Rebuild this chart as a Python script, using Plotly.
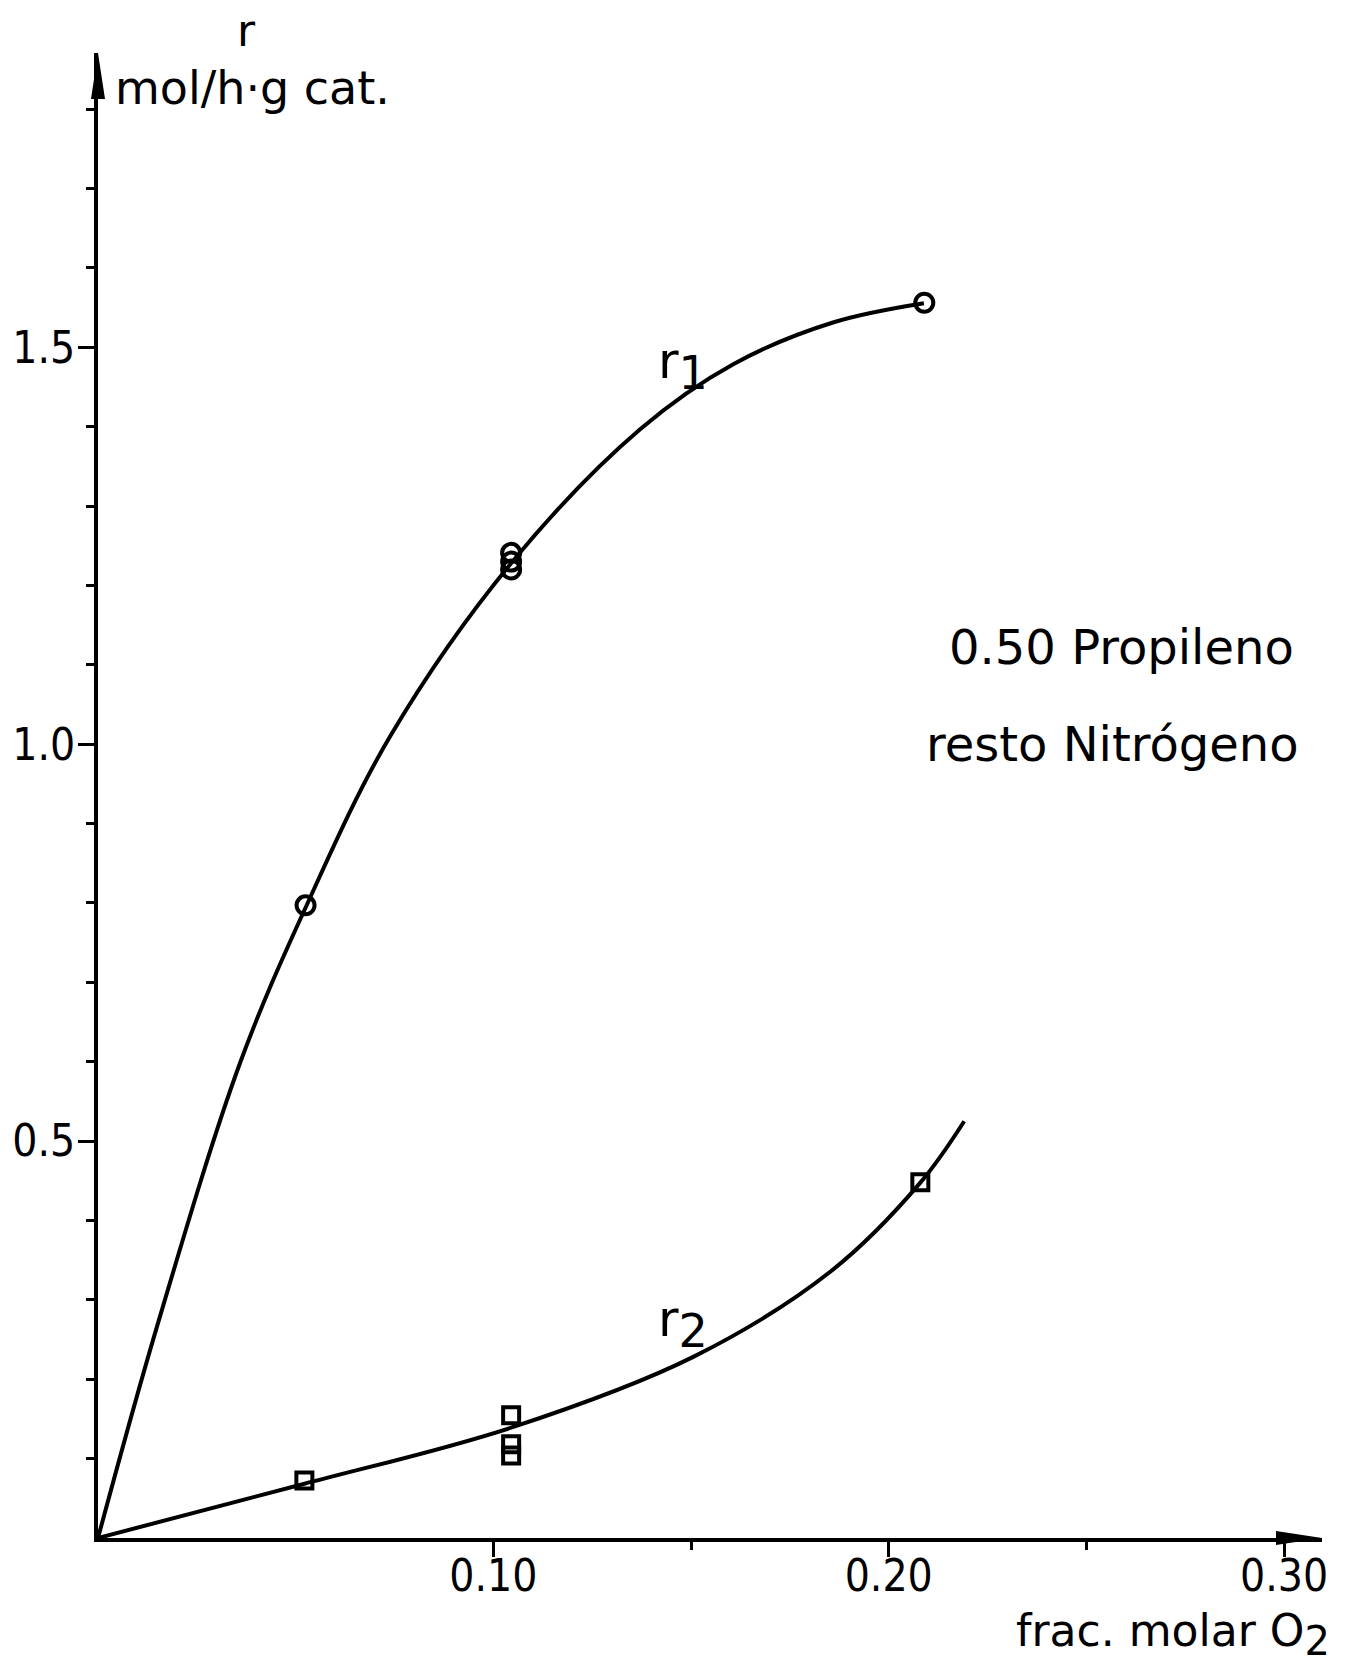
import plotly.graph_objects as go

# Measured rates (mol/h·g cat.) versus O2 molar fraction
o2_r1 = [0.0525, 0.1045, 0.1045, 0.1045, 0.209]
rate_r1 = [0.797, 1.241, 1.230, 1.220, 1.556]
o2_r2 = [0.0522, 0.1045, 0.1045, 0.1045, 0.208]
rate_r2 = [0.0725, 0.1545, 0.118, 0.104, 0.448]

# Smoothed trend curves drawn through the measurements
curve_r1_x = [0, 0.0149, 0.0359, 0.0524, 0.0739, 0.1045, 0.1372, 0.1608, 0.1861, 0.2089]
curve_r1_y = [0, 0.266, 0.598, 0.793, 1.010, 1.228, 1.397, 1.479, 1.5315, 1.5555]
curve_r2_x = [0, 0.052, 0.1045, 0.1507, 0.1853, 0.2079, 0.2191]
curve_r2_y = [0, 0.068, 0.139, 0.2285, 0.3357, 0.447, 0.525]

# Axis ticks
x_major = [0.10, 0.20, 0.30]
x_major_text = ["0.10", "0.20", "0.30"]
x_minor = [0.15, 0.25]
y_major = [0.5, 1.0, 1.5]
y_major_text = ["0.5", "1.0", "1.5"]
y_minor = [0.1, 0.2, 0.3, 0.4, 0.6, 0.7, 0.8, 0.9, 1.1, 1.2, 1.3, 1.4, 1.6, 1.7, 1.8]

W, H = 1366, 1668
ML, MR, MT, MB = 98, 44, 53, 130
PW, PH = W - ML - MR, H - MT - MB

TEXT_FONT = "DejaVu Sans, Liberation Sans, sans-serif"
TICK_FONT = "DejaVu Sans Condensed, DejaVu Sans, sans-serif"


def px(xp, yp):
    """Page pixel position -> paper coordinates."""
    return (xp - ML) / PW, (H - MB - yp) / PH


fig = go.Figure()

line_style = dict(color="black", width=4, shape="spline", smoothing=1.0)
fig.add_trace(go.Scatter(x=curve_r1_x, y=curve_r1_y, mode="lines", line=line_style,
                         cliponaxis=False, hoverinfo="skip"))
fig.add_trace(go.Scatter(x=curve_r2_x, y=curve_r2_y, mode="lines", line=line_style,
                         cliponaxis=False, hoverinfo="skip"))
fig.add_trace(go.Scatter(x=o2_r1, y=rate_r1, mode="markers", cliponaxis=False,
                         marker=dict(symbol="circle-open", size=18, color="black",
                                     line=dict(width=4, color="black"))))
fig.add_trace(go.Scatter(x=o2_r2, y=rate_r2, mode="markers", cliponaxis=False,
                         marker=dict(symbol="square-open", size=16, color="black",
                                     line=dict(width=4, color="black"))))

annotations = []


def label(text, xp, yp, size, xanchor="center", family=TEXT_FONT):
    xx, yy = px(xp, yp)
    annotations.append(dict(text=text, x=xx, y=yy, xref="paper", yref="paper",
                            xanchor=xanchor, yanchor="middle", showarrow=False,
                            font=dict(family=family, size=size, color="black")))


label("r", 246, 31, 44)
label("mol/h·g cat.", 113, 88, 46, xanchor="left")
label("0.50 Propileno", 1121, 647, 48)
label("resto Nitrógeno", 1112, 744, 48)
label("r<sub><span style='font-size:46px'>1</span></sub>", 683, 366, 50)
label("r<sub><span style='font-size:46px'>2</span></sub>", 683, 1324, 50)
label("frac. molar O<sub><span style='font-size:40px'>2</span></sub>", 1332, 1634, 44,
      xanchor="right")

# Arrowheads at the ends of both axes
shapes = [
    dict(type="path", xref="paper", yref="paper", xsizemode="pixel", ysizemode="pixel",
         xanchor=0, yanchor=1, path="M0,0 L-7,-46 L7,-46 Z",
         fillcolor="black", line=dict(width=0)),
    dict(type="path", xref="paper", yref="paper", xsizemode="pixel", ysizemode="pixel",
         xanchor=1, yanchor=0, path="M0,0 L-46,7 L-46,-7 Z",
         fillcolor="black", line=dict(width=0)),
]

axis_common = dict(showline=True, linewidth=4, linecolor="black", showgrid=False,
                   zeroline=False, ticks="outside", tickwidth=3, tickcolor="black",
                   tickmode="array", fixedrange=True, automargin=False)

fig.update_layout(
    width=W, height=H,
    margin=dict(l=ML, r=MR, t=MT, b=MB, pad=0),
    paper_bgcolor="white", plot_bgcolor="white",
    showlegend=False,
    annotations=annotations,
    shapes=shapes,
    xaxis=dict(range=[0, 0.3096], tickvals=x_major, ticktext=x_major_text, ticklen=15,
               ticklabelstandoff=-19,
               tickfont=dict(family=TICK_FONT, size=44, color="black"),
               minor=dict(tickvals=x_minor, ticklen=8, tickwidth=3, ticks="outside",
                          tickcolor="black"),
               **axis_common),
    yaxis=dict(range=[0, 1.8707], tickvals=y_major, ticktext=y_major_text, ticklen=16,
               ticklabelstandoff=-6,
               tickfont=dict(family=TICK_FONT, size=44, color="black"),
               minor=dict(tickvals=y_minor, ticklen=8, tickwidth=3, ticks="outside",
                          tickcolor="black"),
               **axis_common),
)

fig.write_html("out.html")
